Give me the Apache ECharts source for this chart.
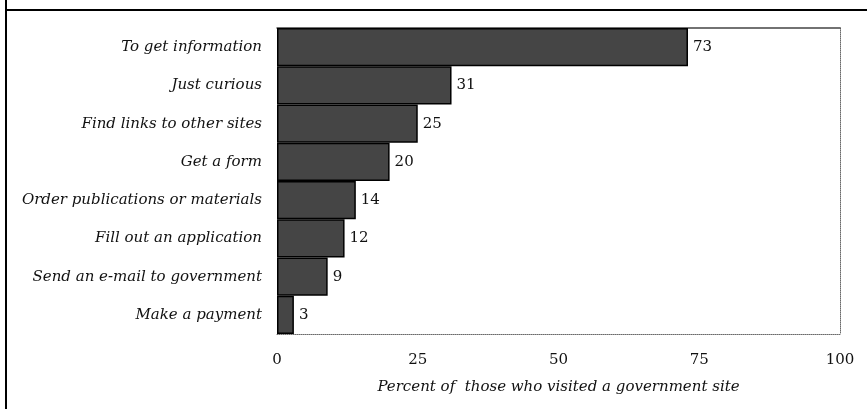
<!DOCTYPE html>
<html>
<head>
<meta charset="utf-8">
<script src="https://cdn.jsdelivr.net/npm/echarts@6/dist/echarts.min.js"></script>
<style>
  html, body { margin: 0; padding: 0; background: #fff; }
  #chart { width: 867px; height: 409px; }
</style>
</head>
<body>
<div id="chart"></div>
<script>
// Reasons for visiting a government web site
const categories = [
  'To get information',
  'Just curious',
  'Find links to other sites',
  'Get a form',
  'Order publications or materials',
  'Fill out an application',
  'Send an e-mail to government',
  'Make a payment'
];
const percentValues = [73, 31, 25, 20, 14, 12, 9, 3];
const xTicks = [0, 25, 50, 75, 100];

const serif = '"DejaVu Serif", "Liberation Serif", serif';

const chart = echarts.init(document.getElementById('chart'), null, { renderer: 'canvas' });

chart.setOption({
  animation: false,
  backgroundColor: '#ffffff',
  grid: { left: 277, right: 27, top: 28, bottom: 75, containLabel: false },
  graphic: [
    // outer frame: rule across the top and down the left edge
    { type: 'rect', shape: { x: 5, y: 9, width: 862, height: 2 }, style: { fill: '#000' } },
    { type: 'rect', shape: { x: 5, y: 0, width: 2, height: 409 }, style: { fill: '#000' } }
  ],
  xAxis: [
    {
      type: 'value',
      position: 'bottom',
      min: xTicks[0],
      max: xTicks[xTicks.length - 1],
      interval: 25,
      axisLine: { show: true, onZero: false, lineStyle: { color: '#6a6a6a', width: 1, type: [1, 1] } },
      axisTick: { show: false },
      splitLine: { show: false },
      axisLabel: {
        margin: 19,
        fontFamily: serif,
        fontSize: 15,
        color: '#111',
        formatter: v => xTicks.includes(v) ? String(v) : ''
      },
      name: 'Percent of  those who visited a government site',
      nameLocation: 'middle',
      nameGap: 46,
      nameTextStyle: { fontFamily: serif, fontStyle: 'italic', fontSize: 15, color: '#111' }
    },
    {
      type: 'value',
      position: 'top',
      min: 0,
      max: 100,
      interval: 25,
      axisLine: { show: true, onZero: false, lineStyle: { color: '#444', width: 1.5 } },
      axisTick: { show: false },
      axisLabel: { show: false },
      splitLine: { show: false }
    }
  ],
  yAxis: [
    {
      type: 'category',
      inverse: true,
      data: categories,
      axisLine: { show: false },
      axisTick: { show: false },
      axisLabel: {
        margin: 15,
        fontFamily: serif,
        fontStyle: 'italic',
        fontSize: 15,
        color: '#111'
      }
    },
    {
      type: 'category',
      inverse: true,
      position: 'right',
      data: categories,
      axisLine: { show: true, onZero: false, lineStyle: { color: '#6a6a6a', width: 1, type: [1, 1] } },
      axisTick: { show: false },
      axisLabel: { show: false }
    }
  ],
  series: [
    {
      type: 'bar',
      xAxisIndex: 0,
      yAxisIndex: 0,
      data: percentValues,
      barCategoryGap: '0%',
      itemStyle: { color: '#454545', borderColor: '#000', borderWidth: 1.5 },
      label: {
        show: true,
        position: 'right',
        distance: 5,
        fontFamily: serif,
        fontSize: 15,
        color: '#111'
      }
    }
  ]
});
</script>
</body>
</html>
